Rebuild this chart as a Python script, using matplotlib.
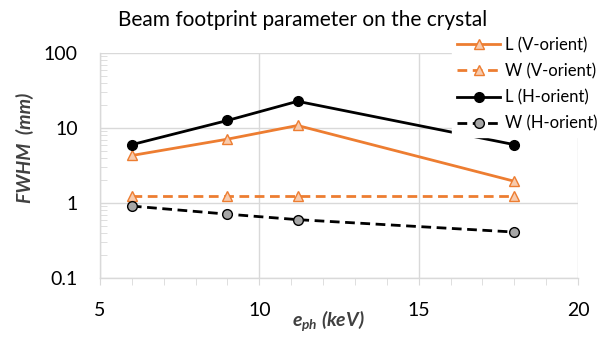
import matplotlib
matplotlib.use("Agg")
import matplotlib.pyplot as plt
from matplotlib.ticker import FixedLocator, NullFormatter, LogLocator

plt.rcParams['font.family'] = ['Lato', 'DejaVu Sans']
plt.rcParams['mathtext.fontset'] = 'custom'
plt.rcParams['mathtext.it'] = 'Lato:bold:italic'
plt.rcParams['mathtext.rm'] = 'Lato:bold:italic'

energy = [6, 9, 11.2, 18]
L_V = [4.3, 7.1, 10.8, 1.95]
W_V = [1.24, 1.24, 1.24, 1.24]
L_H = [6.0, 12.6, 22.7, 6.0]
W_H = [0.91, 0.71, 0.60, 0.41]
y_ticks = [0.1, 1, 10, 100]
y_tick_labels = ['0.1', '1', '10', '100']

orange = '#ED7D31'
fig = plt.figure(figsize=(5.99, 3.53), dpi=100)
ax = fig.add_axes([100/599, 1-278/353, 478/599, 225/353])

ax.plot(energy, L_V, '-', color=orange, lw=2, marker='^', ms=7,
        mfc='#F8CBAD', mec=orange, mew=1, label='L (V-orient)')
ax.plot(energy, W_V, '--', color=orange, lw=2, marker='^', ms=7,
        mfc='#F8CBAD', mec=orange, mew=1, label='W (V-orient)', dashes=(3.5, 2))
ax.plot(energy, L_H, '-', color='black', lw=2, marker='o', ms=7,
        mfc='black', mec='black', label='L (H-orient)')
ax.plot(energy, W_H, '--', color='black', lw=2, marker='o', ms=7,
        mfc='#A6A6A6', mec='black', mew=1, label='W (H-orient)', dashes=(3.5, 2))

ax.set_yscale('log')
ax.set_ylim(0.1, 100)
ax.set_xlim(5, 20)
ax.set_xticks([5, 10, 15, 20])
ax.xaxis.set_minor_locator(FixedLocator(range(5, 21)))
ax.set_yticks(y_ticks)
ax.set_yticklabels(y_tick_labels)
ax.yaxis.set_minor_locator(LogLocator(base=10, subs=range(2, 10)))
ax.yaxis.set_minor_formatter(NullFormatter())

ax.grid(True, which='major', color='#D9D9D9', lw=1)
ax.set_axisbelow(True)
for s in ['top', 'right']:
    ax.spines[s].set_visible(False)
for s in ['left', 'bottom']:
    ax.spines[s].set_color('#D9D9D9')
    ax.spines[s].set_linewidth(1)

ax.tick_params(axis='y', which='major', length=0, labelsize=14, pad=16, labelcolor='black')
ax.tick_params(axis='y', which='minor', direction='in', length=5, color='#D9D9D9')
ax.tick_params(axis='x', which='both', direction='out', length=5, color='#D9D9D9', labelsize=14, pad=12)

ax.set_xlabel(r'$e_{ph}$ (keV)', fontsize=14, fontweight='bold', style='italic', color='#404040', va='center')
ax.xaxis.set_label_coords(0.477, -0.191)
ax.set_ylabel('FWHM  (mm)', fontsize=14, fontweight='bold', style='italic', color='#404040', va='center')
ax.yaxis.set_label_coords(-0.157, 0.578)

fig.text(303/599, 1-20/353, 'Beam footprint parameter on the crystal', fontsize=15,
         ha='center', va='center', color='black')

leg = ax.legend(loc='upper left', bbox_to_anchor=(452/599, 1-32/353), bbox_transform=fig.transFigure,
                fontsize=12, frameon=True, facecolor='white', edgecolor='white', framealpha=1,
                handlelength=2.6, labelspacing=0.6, borderpad=0.3, handletextpad=0.3, borderaxespad=0)

fig.savefig('out.png', dpi=100)
